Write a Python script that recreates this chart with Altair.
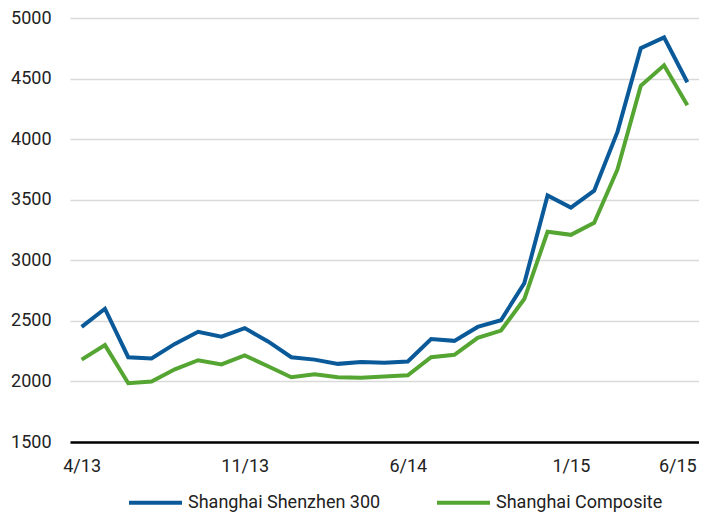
import altair as alt
import pandas as pd

months = ["4/13", "5/13", "6/13", "7/13", "8/13", "9/13", "10/13", "11/13", "12/13",
          "1/14", "2/14", "3/14", "4/14", "5/14", "6/14", "7/14", "8/14", "9/14",
          "10/14", "11/14", "12/14", "1/15", "2/15", "3/15", "4/15", "5/15", "6/15"]
csi300 = [2450, 2600, 2200, 2190, 2310, 2410, 2370, 2440, 2330, 2200, 2180, 2145, 2160,
          2155, 2165, 2350, 2335, 2450, 2505, 2810, 3535, 3435, 3575, 4060, 4750, 4840, 4470]
composite = [2180, 2300, 1985, 2000, 2100, 2175, 2140, 2215, 2125, 2035, 2060, 2035, 2030,
             2040, 2050, 2200, 2220, 2360, 2420, 2680, 3235, 3210, 3310, 3750, 4440, 4610, 4280]
series = ["Shanghai Shenzhen 300", "Shanghai Composite"]
colors = ["#0a5a9a", "#55a532"]
tick_labels = ["4/13", "11/13", "6/14", "1/15", "6/15"]

rows = []
for i, m in enumerate(months):
    rows.append({"month": m, "series": series[0], "value": csi300[i], "order": 0})
    rows.append({"month": m, "series": series[1], "value": composite[i], "order": 1})
df = pd.DataFrame(rows)

font = "Roboto"
fs = 18

chart = alt.Chart(df).mark_line(strokeWidth=4, strokeJoin="miter").encode(
    x=alt.X("month:O", sort=months, title=None,
            scale=alt.Scale(paddingInner=0, paddingOuter=0.5),
            axis=alt.Axis(values=tick_labels, labelAngle=0, ticks=False, domain=True,
                          domainColor="#000000", domainWidth=2.5, labelPadding=15,
                          labelOffset={"condition": {"test": "datum.value === '6/15'", "value": -10},
                                       "value": 0},
                          labelFont=font, labelFontSize=fs, labelColor="#222222",
                          grid=False)),
    y=alt.Y("value:Q", title=None,
            scale=alt.Scale(domain=[1500, 5000], nice=False, zero=False),
            axis=alt.Axis(values=[1500, 2000, 2500, 3000, 3500, 4000, 4500, 5000],
                          format="d", ticks=False, domain=False, labelPadding=19,
                          labelFont=font, labelFontSize=fs, labelColor="#222222",
                          gridColor="#d9d9d9", gridWidth=1.5)),
    color=alt.Color("series:N", sort=series,
                    scale=alt.Scale(domain=series, range=colors),
                    legend=alt.Legend(title=None, orient="none", direction="horizontal",
                                      legendX=57, legendY=456,
                                      symbolType="stroke", symbolSize=2809,
                                      symbolStrokeWidth=4, labelFont=font,
                                      labelFontSize=fs, labelColor="#222222",
                                      labelLimit=400,
                                      columnPadding=48, labelOffset=4)),
    order=alt.Order("order:Q")
).properties(
    width=629, height=424,
    autosize=alt.AutoSizeParams(type="none"),
    padding={"left": 62, "top": 10, "right": 0, "bottom": 75}
).configure_view(stroke=None)

chart.save("out.html", embed_options={"renderer": "svg", "actions": False})
